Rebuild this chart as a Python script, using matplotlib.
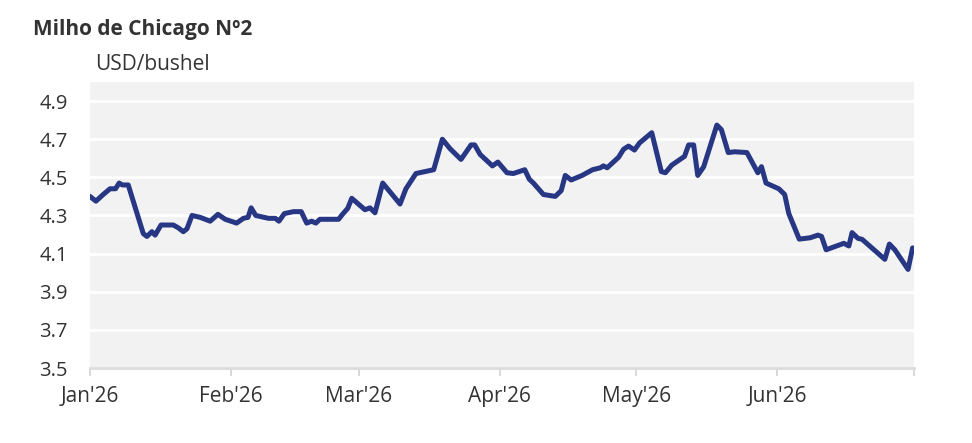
import numpy as np
import pandas as pd
import matplotlib.pyplot as plt
import matplotlib.dates as mdates

plt.rcParams['font.family'] = ['Open Sans', 'DejaVu Sans']

# days since 1 Jan 2026 and price (USD/bushel)
days = [0.0, 1.3, 2.9, 4.4, 5.6, 6.4, 7.1, 8.4, 11.7, 12.5, 13.6, 14.3, 15.6, 18.3,
        19.4, 20.5, 21.3, 22.4, 24.2, 26.4, 28.1, 29.7, 32.2, 33.7, 34.7, 35.4, 36.4,
        39.2, 40.7, 41.5, 42.7, 44.7, 46.4, 47.6, 48.7, 49.6, 50.5, 54.6, 55.5, 56.6,
        57.5, 60.4, 61.5, 62.6, 64.3, 68.1, 69.4, 71.6, 75.5, 77.4, 79.1, 81.5, 83.7,
        84.5, 85.7, 88.4, 89.6, 91.6, 93.0, 95.5, 96.5, 97.4, 99.6, 102.2, 103.5, 104.4,
        105.7, 108.1, 110.4, 112.1, 112.8, 113.6, 116.1, 117.2, 118.3, 119.6, 120.7,
        123.4, 125.5, 126.4, 127.8, 130.6, 131.5, 132.6, 133.5, 134.8, 137.7, 138.7,
        140.2, 141.6, 144.3, 146.7, 147.5, 148.5, 151.3, 152.6, 153.5, 155.8, 158.2,
        159.9, 160.7, 161.7, 165.6, 166.7, 167.4, 168.7, 169.6, 174.6, 175.6, 176.8,
        179.7, 180.7]
price = [4.40, 4.375, 4.41, 4.44, 4.44, 4.47, 4.46, 4.46, 4.205, 4.19, 4.215, 4.197, 4.25, 4.25,
         4.235, 4.215, 4.23, 4.30, 4.29, 4.27, 4.306, 4.28, 4.26, 4.285, 4.29, 4.34, 4.30,
         4.285, 4.285, 4.27, 4.31, 4.32, 4.32, 4.26, 4.27, 4.26, 4.28, 4.28, 4.307, 4.337,
         4.39, 4.33, 4.34, 4.314, 4.47, 4.36, 4.44, 4.52, 4.54, 4.70, 4.65, 4.594, 4.67,
         4.67, 4.62, 4.56, 4.58, 4.524, 4.52, 4.54, 4.49, 4.47, 4.41, 4.40, 4.43, 4.51,
         4.486, 4.51, 4.54, 4.55, 4.56, 4.55, 4.605, 4.647, 4.664, 4.643, 4.68,
         4.734, 4.53, 4.524, 4.564, 4.61, 4.67, 4.67, 4.51, 4.555, 4.774, 4.75,
         4.63, 4.634, 4.63, 4.524, 4.556, 4.47, 4.44, 4.41, 4.31, 4.176, 4.183,
         4.197, 4.19, 4.12, 4.154, 4.14, 4.21, 4.18, 4.175, 4.07, 4.15, 4.12,
         4.017, 4.13]

month_starts = ['2026-01-01', '2026-02-01', '2026-03-01', '2026-04-01',
                '2026-05-01', '2026-06-01', '2026-07-01']
month_labels = ["Jan'26", "Feb'26", "Mar'26", "Apr'26", "May'26", "Jun'26", ""]
yticks = [3.5, 3.7, 3.9, 4.1, 4.3, 4.5, 4.7, 4.9]

dates = pd.Timestamp('2026-01-01') + pd.to_timedelta(days, unit='D')
ticks = pd.to_datetime(month_starts)

fig = plt.figure(figsize=(9.72, 4.43), dpi=100)
ax = fig.add_axes([0.0926, 0.1693, 0.8477, 0.6456])
ax.set_facecolor('#f2f2f2')

ax.plot(dates, price, color='#273784', lw=3.6, solid_joinstyle='round',
        solid_capstyle='round', zorder=3)

ax.set_ylim(3.5, 5.0)
ax.set_xlim(ticks[0], ticks[-1])
ax.set_yticks(yticks)
ax.set_yticklabels([f'{v:.1f}' for v in yticks])
ax.yaxis.grid(True, color='white', lw=2)
ax.set_axisbelow(True)
ax.set_xticks(ticks)
ax.set_xticklabels(month_labels)

for s in ['top', 'right', 'left']:
    ax.spines[s].set_visible(False)
ax.spines['bottom'].set_color('#dcdcdc')
ax.spines['bottom'].set_linewidth(2)
ax.spines['bottom'].set_zorder(4)

ax.tick_params(axis='y', length=0, pad=16, labelsize=14.5, labelcolor='#333333')
ax.tick_params(axis='x', length=6, width=1.3, color='#d6d6d6', pad=7,
               labelsize=15, labelcolor='#333333')

fig.text(33 / 972, 1 - 29 / 443, 'Milho de Chicago Nº2', fontsize=15,
         fontweight='bold', color='#333333', va='center', ha='left')
fig.text(95 / 972, 1 - 64 / 443, 'USD/bushel', fontsize=15, color='#333333',
         va='center', ha='left')

fig.savefig('out.png', dpi=100)
